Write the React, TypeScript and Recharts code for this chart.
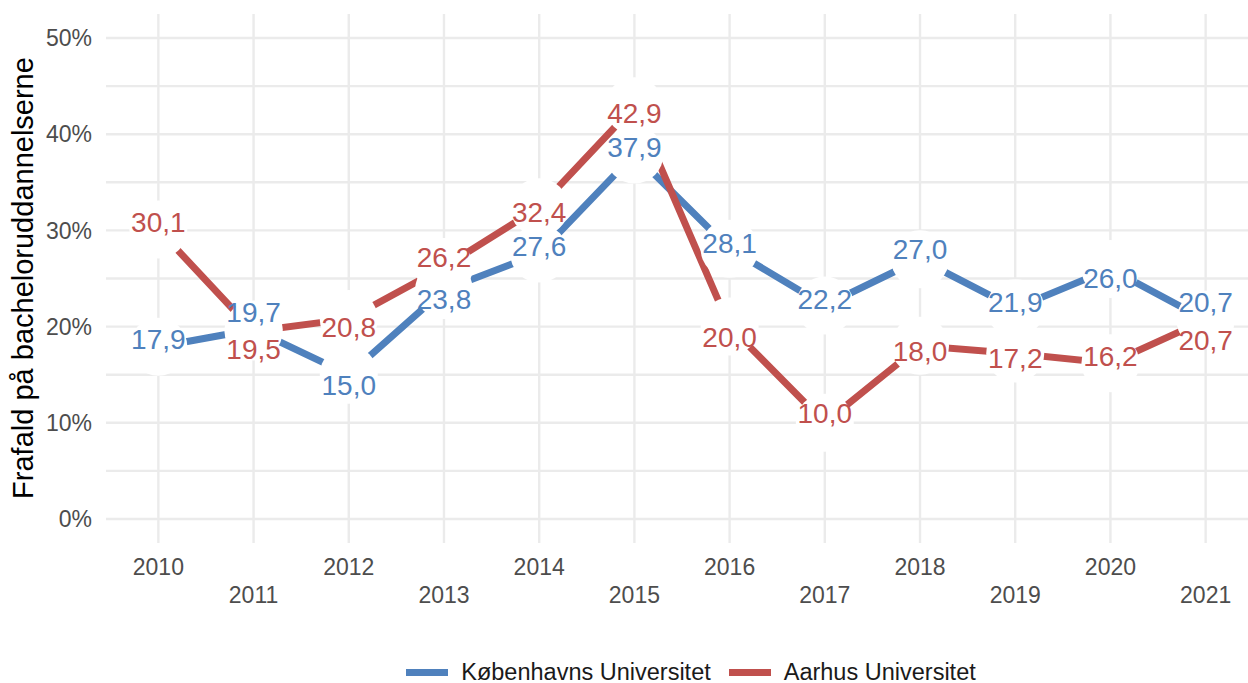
import {
  CartesianGrid,
  ComposedChart,
  LabelList,
  Legend,
  Line,
  XAxis,
  YAxis,
} from "recharts";

const years = [2010, 2011, 2012, 2013, 2014, 2015, 2016, 2017, 2018, 2019, 2020, 2021];
const kuValues = [17.9, 19.7, 15.0, 23.8, 27.6, 37.9, 28.1, 22.2, 27.0, 21.9, 26.0, 20.7];
const auValues = [30.1, 19.5, 20.8, 26.2, 32.4, 42.9, 20.0, 10.0, 18.0, 17.2, 16.2, 20.7];
const yTicks = [0, 10, 20, 30, 40, 50];
const yGrid = [0, 5, 10, 15, 20, 25, 30, 35, 40, 45, 50];

// label nudges (px) so the two labels at a year don't collide, like ggrepel did
const kuLabelDy = [-8, -18, 10, 9, -8, -8, -6, -7, -10, -6, 9, -18];
const auLabelDy = [-8, 18, 8, -10, 5, 7, 10, -10, 5, 4, -7, 20];

const KU_COLOR = "#4F81BD";
const AU_COLOR = "#C0504D";
const FONT = "'Liberation Sans', Arial, sans-serif";

const data = years.map((year, i) => ({ year, ku: kuValues[i], au: auValues[i] }));

const fmt = (v: number) => v.toFixed(1).replace(".", ",");

function YearTick(props: { x?: number; y?: number; payload?: { value: number } }) {
  const { x = 0, y = 0, payload } = props;
  const v = payload?.value ?? 0;
  const off = v % 2 === 0 ? 24 : 52;
  return (
    <text x={x} y={y + off} textAnchor="middle" fill="#4d4d4d" fontSize={23} fontFamily={FONT}>
      {v}
    </text>
  );
}

function WhiteDot(props: { cx?: number; cy?: number; index?: number }) {
  const { cx, cy, index } = props;
  if (cx == null || cy == null) return <g key={`e-${index}`} />;
  return <circle key={`d-${index}`} cx={cx} cy={cy} r={29} fill="#fff" stroke="none" />;
}

function makeLabel(color: string, nudges: number[]) {
  return (p: any) => {
    const { x, y, value, index } = p;
    if (x == null || y == null) return null;
    return (
      <text
        x={x}
        y={y + (nudges[index] ?? 0)}
        dy="0.36em"
        textAnchor="middle"
        fill={color}
        fontSize={28}
        fontFamily={FONT}
      >
        {fmt(Number(value))}
      </text>
    );
  };
}

function LegendContent() {
  const item = (color: string, text: string, mr: number) => (
    <span style={{ display: "flex", alignItems: "center", marginRight: mr }}>
      <span style={{ display: "inline-block", width: 42, height: 7, background: color, marginRight: 13 }} />
      <span>{text}</span>
    </span>
  );
  return (
    <div
      style={{
        display: "flex",
        justifyContent: "center",
        alignItems: "center",
        fontFamily: FONT,
        fontSize: 23.5,
        color: "#1a1a1a",
        height: 30,
      }}
    >
      {item(KU_COLOR, "Københavns Universitet", 18)}
      {item(AU_COLOR, "Aarhus Universitet", 0)}
    </div>
  );
}

export default function App() {
  return (
    <div
      style={{
        position: "fixed",
        left: 0,
        top: 0,
        width: 1248,
        height: 683,
        overflow: "hidden",
        background: "#fff",
      }}
    >
      <ComposedChart width={1280} height={683} data={data} margin={{ top: 14, right: 22, bottom: 0, left: 0 }}>
        <CartesianGrid
          stroke="#ebebeb"
          strokeWidth={2.4}
          horizontalValues={yGrid}
          verticalValues={years}
        />
        <XAxis
          dataKey="year"
          type="number"
          domain={[2009.45, 2021.55]}
          ticks={years}
          allowDataOverflow
          height={140}
          axisLine={false}
          tickLine={false}
          interval={0}
          tick={<YearTick />}
        />
        <YAxis
          type="number"
          domain={[-2.5, 52.5]}
          ticks={yTicks}
          allowDataOverflow
          width={106}
          axisLine={false}
          tickLine={false}
          tickSize={0}
          tickMargin={14}
          tickFormatter={(v: number) => `${v}%`}
          tick={{ fill: "#4d4d4d", fontSize: 23, fontFamily: FONT }}
          label={{
            content: () => (
              <text
                x={33}
                y={278}
                transform="rotate(-90, 33, 278)"
                textAnchor="middle"
                fill="#000"
                fontSize={29}
                fontFamily={FONT}
              >
                Frafald på bacheloruddannelserne
              </text>
            ),
          }}
        />
        <Legend
          layout="horizontal"
          verticalAlign="middle"
          align="center"
          wrapperStyle={{ left: 0, top: 657, width: 1382 }}
          content={<LegendContent />}
        />
        <Line
          dataKey="ku"
          name="Københavns Universitet"
          stroke={KU_COLOR}
          strokeWidth={7}
          dot={false}
          activeDot={false}
          isAnimationActive={false}
        />
        <Line
          dataKey="au"
          name="Aarhus Universitet"
          stroke={AU_COLOR}
          strokeWidth={7}
          dot={false}
          activeDot={false}
          isAnimationActive={false}
        />
        <Line
          dataKey="ku"
          legendType="none"
          stroke="none"
          strokeWidth={0}
          dot={(p: any) => <WhiteDot {...p} />}
          activeDot={false}
          isAnimationActive={false}
        />
        <Line
          dataKey="au"
          legendType="none"
          stroke="none"
          strokeWidth={0}
          dot={(p: any) => <WhiteDot {...p} />}
          activeDot={false}
          isAnimationActive={false}
        />
        <Line
          dataKey="ku"
          legendType="none"
          stroke="none"
          strokeWidth={0}
          dot={false}
          activeDot={false}
          isAnimationActive={false}
        >
          <LabelList dataKey="ku" content={makeLabel(KU_COLOR, kuLabelDy)} />
        </Line>
        <Line
          dataKey="au"
          legendType="none"
          stroke="none"
          strokeWidth={0}
          dot={false}
          activeDot={false}
          isAnimationActive={false}
        >
          <LabelList dataKey="au" content={makeLabel(AU_COLOR, auLabelDy)} />
        </Line>
      </ComposedChart>
    </div>
  );
}
